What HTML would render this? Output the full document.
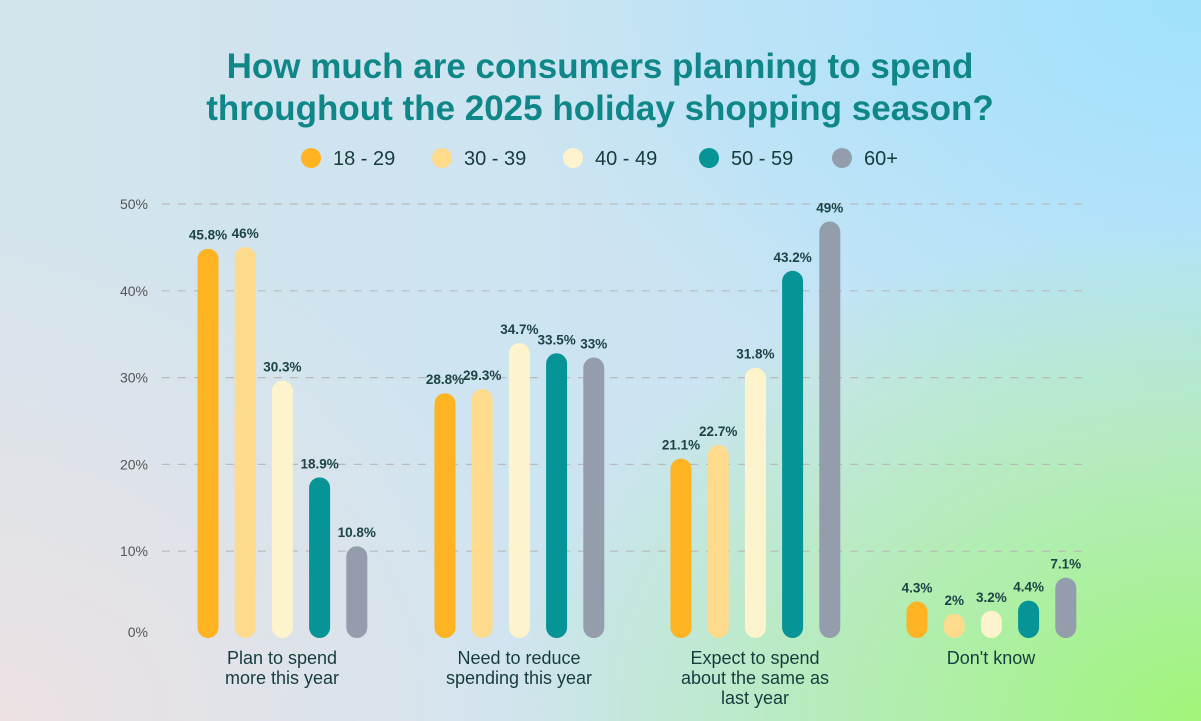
<!DOCTYPE html>
<html><head><meta charset="utf-8">
<style>
body{margin:0;width:1201px;height:721px;overflow:hidden;font-family:"Liberation Sans",sans-serif;}
#bg{position:absolute;left:0;top:0;width:1201px;height:721px;
background:
radial-gradient(ellipse 700px 500px at 1201px 721px, rgba(160,245,120,1) 0%, rgba(160,245,120,0.6) 40%, rgba(160,245,120,0) 100%),
radial-gradient(ellipse 600px 500px at 0px 721px, rgba(236,226,228,1) 0%, rgba(236,226,228,0) 100%),
radial-gradient(ellipse 700px 450px at 1201px 0px, rgba(160,225,252,1) 0%, rgba(160,225,252,0) 100%),
linear-gradient(to right,#d4e4ec,#c4e4f8);}
</style></head><body>
<div id="bg"></div>
<svg id="chart" width="1201" height="721" style="position:absolute;left:0;top:0">
<text x="600" y="78" text-anchor="middle" font-size="35" font-weight="bold" fill="#0f8688">How much are consumers planning to spend</text>
<text x="600" y="120" text-anchor="middle" font-size="35" font-weight="bold" fill="#0f8688">throughout the 2025 holiday shopping season?</text>
<g id="legend"></g>
<g id="grid"></g>
<g id="bars"></g>
</svg>
<script>
const categories=[["Plan to spend","more this year"],["Need to reduce","spending this year"],["Expect to spend","about the same as","last year"],["Don't know"]];
const seriesNames=["18 - 29","30 - 39","40 - 49","50 - 59","60+"];
const s1829=[45.8,28.8,21.1,4.3];
const s3039=[46,29.3,22.7,2];
const s4049=[30.3,34.7,31.8,3.2];
const s5059=[18.9,33.5,43.2,4.4];
const s60=[10.8,33,49,7.1];
const yTicks=[0,10,20,30,40,50];
const series=[s1829,s3039,s4049,s5059,s60];
const colors=["#fdb322","#fedb8c","#fdf3cc","#079496","#949dac"];
const NS="http://www.w3.org/2000/svg";
function mk(t,a,p){const e=document.createElementNS(NS,t);for(const k in a)e.setAttribute(k,a[k]);p.appendChild(e);return e;}
const gridY=v=>638-v*8.68;
const barY=v=>638-v*8.5;
const groupX=[208,445,681,917];
const legend=document.getElementById('legend'),grid=document.getElementById('grid'),bars=document.getElementById('bars');
const legX=[311,442,573,709,842];
seriesNames.forEach((n,i)=>{
 const c=mk('circle',{cx:legX[i],cy:158,r:10,fill:colors[i]},legend);
 
 
 const t=mk('text',{x:legX[i]+22,y:165,'font-size':20,fill:'#173c3e'},legend);t.textContent=n;
 
 
});
yTicks.forEach(v=>{
 const y=gridY(v);
 if(v>0){const l=mk('line',{x1:162,x2:1085,y1:y,y2:y,stroke:'#b9b9b9','stroke-width':1.2,'stroke-dasharray':'8 8'},grid);
 
 }
 const t=mk('text',{x:148,y:(v===0?637:y+5),'text-anchor':'end','font-size':14,fill:'#555'},grid);t.textContent=v+'%';
 
 
});
categories.forEach((cat,g)=>{
 series.forEach((s,i)=>{
  const v=s[g];const cx=groupX[g]+i*37.2;const top=Math.min(barY(v),638-24);
  const r=mk('rect',{x:cx-10.5,y:top,width:21,height:638-top,rx:10.5,fill:colors[i]},bars);
  
  
  const t=mk('text',{x:cx,y:top-9,'text-anchor':'middle','font-size':13.5,'font-weight':'bold',fill:'#1c4446'},bars);t.textContent=v+'%';
  
  
 });
 cat.forEach((line,k)=>{
  const t=mk('text',{x:groupX[g]+74,y:664+k*20,'text-anchor':'middle','font-size':18,fill:'#173c3e'},bars);t.textContent=line;
  
  
 });
});
</script>
</body></html>
